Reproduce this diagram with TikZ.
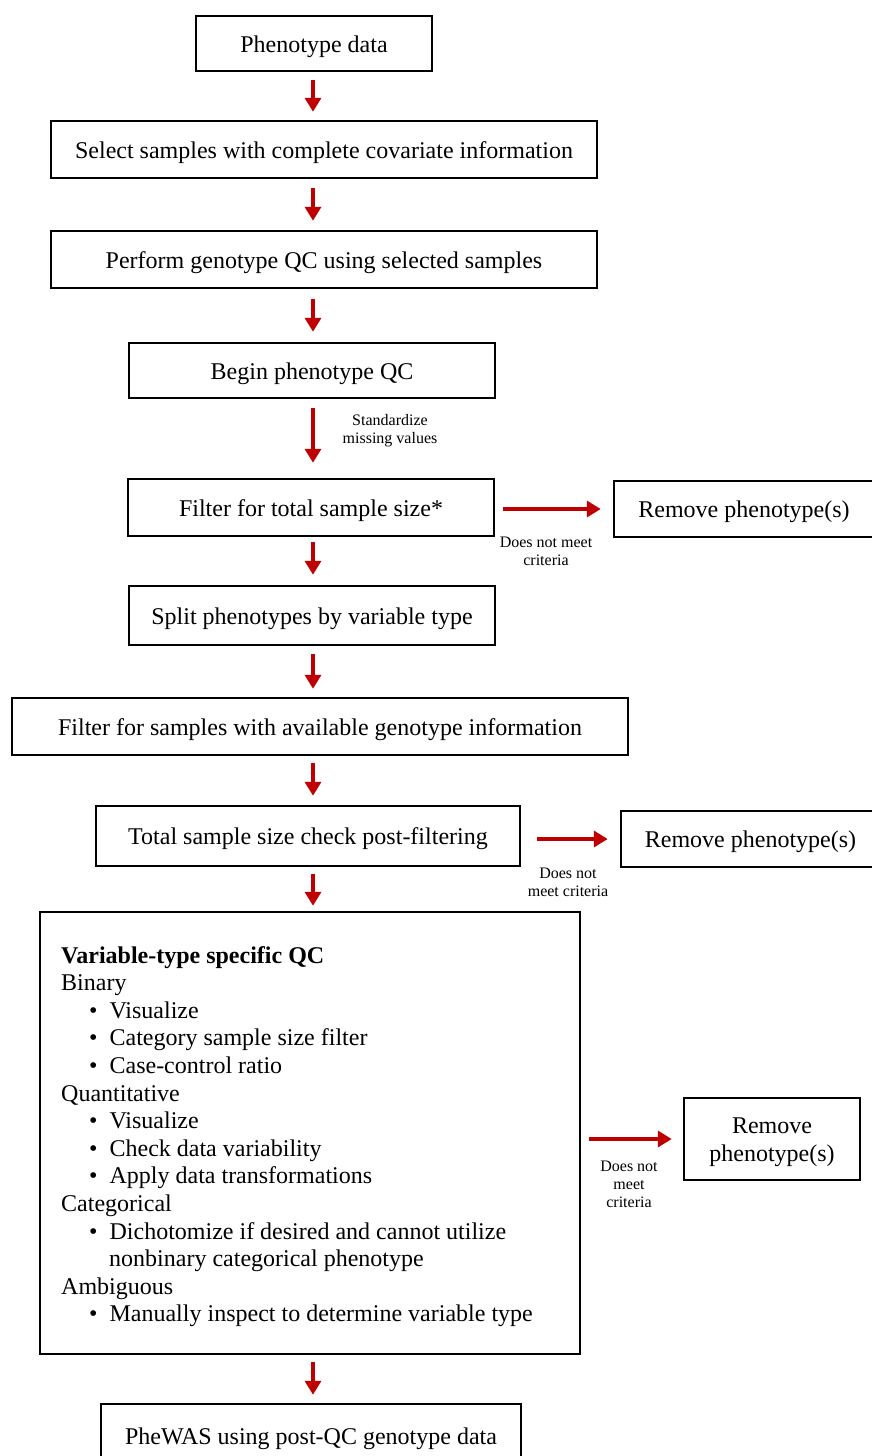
\documentclass[tikz,border=0pt]{standalone}
\usepackage{fontspec}
\setmainfont{Liberation Serif}
\usetikzlibrary{arrows.meta}
\definecolor{arrred}{RGB}{192,0,0}
\tikzset{
  box/.style={draw=black, line width=2.5pt, fill=white, inner sep=0pt, align=center,
    font=\fontsize{24}{27.6}\selectfont},
  onebox/.style={box, text height=17.2pt, text depth=0pt},
  flowarr/.style={draw=arrred, line width=3.6pt, -{Triangle[width=16pt,length=14pt]}},
  note/.style={align=center, inner sep=0pt, font=\fontsize{16}{18}\selectfont},
  itm/.style={anchor=base west, inner sep=0pt, font=\fontsize{24}{27.6}\selectfont},
}
\begin{document}
\begin{tikzpicture}[x=1pt,y=-1pt]
\useasboundingbox (0,0) rectangle (871,1456);
\coordinate (ax) at (313,0);
% main boxes
\node[onebox, minimum width=236pt, minimum height=55pt] (b1) at (314,43.5) {Phenotype data};
\node[onebox, minimum width=546pt, minimum height=57pt] (b2) at (324,149.5) {Select samples with complete covariate information};
\node[onebox, minimum width=546pt, minimum height=57pt] (b3) at (324,259.5) {Perform genotype QC using selected samples};
\node[onebox, minimum width=366pt, minimum height=55pt] (b4) at (312,370.5) {Begin phenotype QC};
\node[onebox, minimum width=366pt, minimum height=57pt] (b5) at (311,507.5) {Filter for total sample size*};
\node[onebox, minimum width=260pt, minimum height=56pt] (r1) at (744,509) {Remove phenotype(s)};
\node[onebox, minimum width=366pt, minimum height=59pt] (b7) at (312,615.5) {Split phenotypes by variable type};
\node[onebox, minimum width=616pt, minimum height=57pt] (b8) at (320,726.5) {Filter for samples with available genotype information};
\node[onebox, minimum width=424pt, minimum height=60pt] (b9) at (308,836) {Total sample size check post-filtering};
\node[onebox, minimum width=259pt, minimum height=56pt] (r2) at (750.5,839) {Remove phenotype(s)};
\node[box, minimum width=540pt, minimum height=442pt] (b11) at (310,1133) {};
\node[box, minimum width=176pt, minimum height=82pt] (r3) at (772,1139) {\rule{0pt}{22pt}Remove\\phenotype(s)};
\node[onebox, minimum width=420pt, minimum height=64pt] (b13) at (311,1436) {PheWAS using post-QC genotype data};
% big box content
\node[itm] (t1) at (61,963) {\textbf{Variable-type specific QC}};
\node[itm] (t2) at (61,990.6) {Binary};
\node[itm] (t3) at (89,1018.2) {•\hspace{12pt}Visualize};
\node[itm] (t4) at (89,1045.8) {•\hspace{12pt}Category sample size filter};
\node[itm] (t5) at (89,1073.4) {•\hspace{12pt}Case-control ratio};
\node[itm] (t6) at (61,1101) {Quantitative};
\node[itm] (t7) at (89,1128.6) {•\hspace{12pt}Visualize};
\node[itm] (t8) at (89,1156.2) {•\hspace{12pt}Check data variability};
\node[itm] (t9) at (89,1183.8) {•\hspace{12pt}Apply data transformations};
\node[itm] (t10) at (61,1211.4) {Categorical};
\node[itm] (t11) at (89,1239) {•\hspace{12pt}Dichotomize if desired and cannot utilize};
\node[itm] (t12) at (109,1266.6) {nonbinary categorical phenotype};
\node[itm] (t13) at (61,1294.2) {Ambiguous};
\node[itm] (t14) at (89,1321.8) {•\hspace{12pt}Manually inspect to determine variable type};
% notes
\node[note] (n1) at (390,430.5) {Standardize\\missing values};
\node[note] (n2) at (546,551.5) {Does not meet\\criteria};
\node[note] (n3) at (568,882) {Does not\\meet criteria};
\node[note] (n4) at (629,1184.5) {Does not\\meet\\criteria};
% vertical arrows
\draw[flowarr, shorten <=8pt, shorten >=8pt] (b1.south -| ax) -- (b2.north -| ax);
\draw[flowarr, shorten <=9pt, shorten >=9pt] (b2.south -| ax) -- (b3.north -| ax);
\draw[flowarr, shorten <=10pt, shorten >=10pt] (b3.south -| ax) -- (b4.north -| ax);
\draw[flowarr, shorten <=9pt, shorten >=15pt] (b4.south -| ax) -- (b5.north -| ax);
\draw[flowarr, shorten <=5pt, shorten >=10pt] (b5.south -| ax) -- (b7.north -| ax);
\draw[flowarr, shorten <=8pt, shorten >=8pt] (b7.south -| ax) -- (b8.north -| ax);
\draw[flowarr, shorten <=7pt, shorten >=9pt] (b8.south -| ax) -- (b9.north -| ax);
\draw[flowarr, shorten <=7pt, shorten >=5pt] (b9.south -| ax) -- (b11.north -| ax);
\draw[flowarr, shorten <=7pt, shorten >=8pt] (b11.south -| ax) -- (b13.north -| ax);
% horizontal arrows
\draw[flowarr, shorten <=8pt, shorten >=12pt] (b5.east |- r1.west) -- (r1.west);
\draw[flowarr, shorten <=16pt, shorten >=12pt] (b9.east |- r2.west) -- (r2.west);
\draw[flowarr, shorten <=8pt, shorten >=11pt] (b11.east |- r3.west) -- (r3.west);
\end{tikzpicture}
\end{document}
